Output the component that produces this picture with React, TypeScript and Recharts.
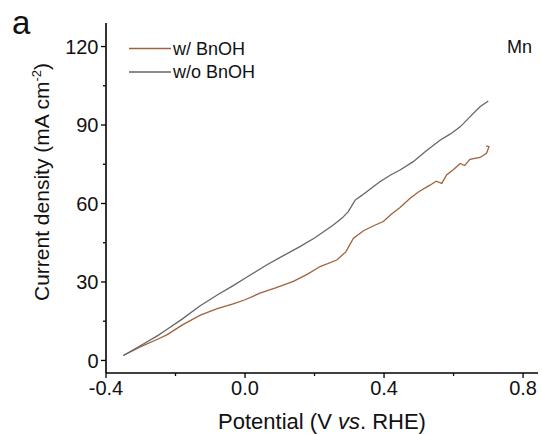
import React from 'react';
import { LineChart, Line, XAxis, YAxis } from 'recharts';

const withBnOH_x = [-0.35, -0.3, -0.25, -0.225, -0.18, -0.13, -0.08, -0.034, 0.0, 0.043, 0.09, 0.139, 0.18, 0.216, 0.264, 0.29, 0.312, 0.341, 0.37, 0.398, 0.42, 0.446, 0.475, 0.5, 0.532, 0.55, 0.566, 0.58, 0.6, 0.619, 0.632, 0.647, 0.676, 0.695, 0.702, 0.694];
const withBnOH_y = [1.9, 5.3, 8.2, 9.8, 13.6, 17.2, 19.8, 21.6, 23.2, 25.7, 27.8, 30.2, 33.0, 35.9, 38.4, 41.5, 46.7, 49.6, 51.5, 53.1, 55.8, 58.5, 62.0, 64.5, 67.0, 68.5, 67.7, 70.9, 73.0, 75.3, 74.5, 76.9, 77.6, 79.2, 81.7, 82.0];

const withoutBnOH_x = [-0.35, -0.3, -0.25, -0.225, -0.18, -0.13, -0.08, -0.034, 0.0, 0.062, 0.1, 0.158, 0.2, 0.254, 0.28, 0.297, 0.317, 0.335, 0.35, 0.388, 0.42, 0.446, 0.484, 0.52, 0.561, 0.59, 0.619, 0.65, 0.676, 0.7];
const withoutBnOH_y = [1.9, 5.7, 9.6, 11.8, 15.9, 20.8, 25.0, 28.6, 31.4, 36.5, 39.3, 43.5, 46.8, 51.8, 54.5, 56.9, 61.3, 63.0, 64.5, 68.3, 71.0, 72.8, 76.0, 80.0, 84.2, 86.5, 89.3, 93.5, 97.0, 99.2];

const xTicks = [-0.4, -0.2, 0, 0.2, 0.4, 0.6, 0.8];
const yTicks = [0, 15, 30, 45, 60, 75, 90, 105, 120];

const seriesNames = ['w/ BnOH', 'w/o BnOH'];
const seriesColors = ['#a0613c', '#666666'];

const dataWith = withBnOH_x.map((x, i) => ({ x, y: withBnOH_y[i] }));
const dataWithout = withoutBnOH_x.map((x, i) => ({ x, y: withoutBnOH_y[i] }));

const FONT = '"Liberation Sans", Arial, sans-serif';

const YTick = (props: any) => {
  const { x, y, payload } = props;
  const v = payload.value;
  const major = v % 30 === 0;
  return (
    <g>
      <line x1={x} x2={x - (major ? 5 : 3)} y1={y} y2={y} stroke="#000" strokeWidth={1.3} />
      {major && (
        <text x={x - 7.5} y={y} dy="0.36em" textAnchor="end" fontFamily={FONT} fontSize={20} fill="#111">
          {v}
        </text>
      )}
    </g>
  );
};

const XTick = (props: any) => {
  const { x, y, payload } = props;
  const v = payload.value;
  const major = Math.round(v * 10) % 4 === 0;
  return (
    <g>
      <line x1={x} x2={x} y1={y} y2={y + (major ? 5 : 3)} stroke="#000" strokeWidth={1.3} />
      {major && (
        <text x={x} y={y + 21.7} textAnchor="middle" fontFamily={FONT} fontSize={20} fill="#111">
          {v.toFixed(1)}
        </text>
      )}
    </g>
  );
};

export default function App() {
  return (
    <div style={{ position: 'absolute', left: 0, top: 0, width: 542, height: 434, background: '#fff' }}>
      <LineChart width={542} height={434} margin={{ top: 23, right: 4, left: 0, bottom: 0 }}>
        <XAxis
          xAxisId="main"
          type="number"
          dataKey="x"
          domain={[-0.4, 0.843]}
          ticks={xTicks}
          interval={0}
          allowDataOverflow
          height={61}
          tickSize={0}
          tickMargin={0}
          tickLine={false}
          tick={<XTick />}
          axisLine={{ stroke: '#000', strokeWidth: 1.6 }}
        />
        <XAxis
          xAxisId="top"
          orientation="top"
          type="number"
          domain={[-0.4, 0.843]}
          height={0}
          tick={false}
          tickLine={false}
          axisLine={{ stroke: '#000', strokeWidth: 1.6 }}
        />
        <YAxis
          yAxisId="main"
          type="number"
          domain={[-4.8, 129]}
          ticks={yTicks}
          interval={0}
          allowDataOverflow
          width={106}
          tickSize={0}
          tickMargin={0}
          tickLine={false}
          tick={<YTick />}
          axisLine={{ stroke: '#000', strokeWidth: 1.6 }}
        />
        <YAxis
          yAxisId="right"
          orientation="right"
          type="number"
          domain={[-4.8, 129]}
          width={0}
          tick={false}
          tickLine={false}
          axisLine={{ stroke: '#000', strokeWidth: 1.6 }}
        />
        <Line
          xAxisId="main"
          yAxisId="main"
          data={dataWith}
          dataKey="y"
          name={seriesNames[0]}
          stroke={seriesColors[0]}
          strokeWidth={1.3}
          dot={false}
          type="linear"
          isAnimationActive={false}
        />
        <Line
          xAxisId="main"
          yAxisId="main"
          data={dataWithout}
          dataKey="y"
          name={seriesNames[1]}
          stroke={seriesColors[1]}
          strokeWidth={1.3}
          dot={false}
          type="linear"
          isAnimationActive={false}
        />
      </LineChart>
      <svg width={542} height={434} style={{ position: 'absolute', left: 0, top: 0, pointerEvents: 'none' }}>
        <text x={12} y={34} fontFamily={FONT} fontSize={33} fill="#111">a</text>
        <text x={532} y={53} textAnchor="end" fontFamily={FONT} fontSize={18} fill="#111">Mn</text>
        {seriesNames.map((name, i) => (
          <g key={name}>
            <line x1={129} x2={171} y1={48.4 + i * 23.5} y2={48.4 + i * 23.5} stroke={seriesColors[i]} strokeWidth={1.5} />
            <text x={173} y={48.4 + i * 23.5} dy="0.36em" fontFamily={FONT} fontSize={18} fill="#111">{name}</text>
          </g>
        ))}
        <text x={322} y={429} textAnchor="middle" fontFamily={FONT} fontSize={22} fill="#111">
          Potential (V <tspan fontStyle="italic">vs</tspan>. RHE)
        </text>
        <text x={49} y={182} textAnchor="middle" fontFamily={FONT} fontSize={21} fill="#111" transform="rotate(-90, 49, 182)">
          Current density (mA cm<tspan fontSize={13} dy={-8}>-2</tspan><tspan dy={8}>)</tspan>
        </text>
      </svg>
    </div>
  );
}
